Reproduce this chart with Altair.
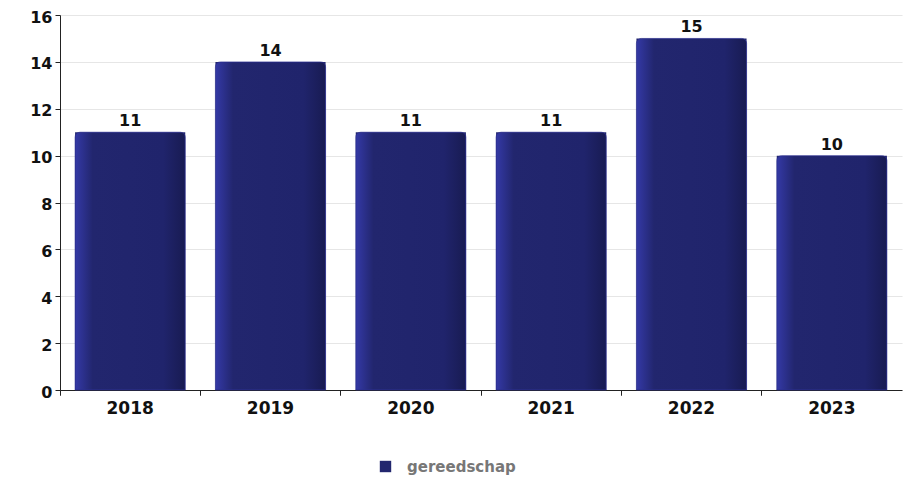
import altair as alt
import pandas as pd

years = ["2018", "2019", "2020", "2021", "2022", "2023"]
values = [11, 14, 11, 11, 15, 10]
series = ["gereedschap"] * len(years)

df = pd.DataFrame({"year": years, "value": values, "series": series})

FONT = "DejaVu Sans"

xscale = alt.Scale(paddingInner=0, paddingOuter=0)
x_lab = alt.X("year:N", sort=years, title=None, scale=xscale,
              axis=alt.Axis(orient="bottom", labelAngle=0, labelFont=FONT, ticks=False,
                            labelFontSize=17, labelFontWeight="bold", labelColor="#111",
                            labelPadding=10, domainColor="#222", grid=False))
x_tick = alt.X("year:N", sort=years, title=None, scale=xscale,
               axis=alt.Axis(orient="bottom", bandPosition=0, labels=False, domain=False,
                             tickColor="#222", tickSize=5, grid=False))
y = alt.Y("value:Q", title=None,
          scale=alt.Scale(domain=[0, 16]),
          axis=alt.Axis(values=[0, 2, 4, 6, 8, 10, 12, 14, 16], labelFont=FONT,
                        labelFontSize=16, labelFontWeight="bold", labelColor="#111",
                        domainColor="#222", tickColor="#222", tickSize=5,
                        labelOffset=2, labelPadding=3,
                        gridColor="#e6e6e6", gridWidth=1.2))

base = alt.Chart(df)
bw = alt.RelativeBandSize(0.785)

legend_layer = base.mark_bar(width=bw).encode(
    x=x_lab, y=y,
    color=alt.Color("series:N", title=None,
                    scale=alt.Scale(range=["#22266e"]),
                    legend=alt.Legend(orient="none", legendX=318, legendY=444,
                                      symbolType="square", symbolSize=130,
                                      labelFont=FONT, labelFontSize=15,
                                      labelFontWeight="bold", labelColor="#777",
                                      labelOffset=14))
)

grad = alt.Gradient(
    gradient="linear", x1=0, x2=1, y1=0, y2=0,
    stops=[alt.GradientStop(color="#3439a6", offset=0),
           alt.GradientStop(color="#22266e", offset=0.16),
           alt.GradientStop(color="#20246c", offset=0.8),
           alt.GradientStop(color="#181b52", offset=1)])

bars = base.mark_bar(width=bw, fill=grad, cornerRadiusTopLeft=5,
                     cornerRadiusTopRight=5, stroke="#2b2f90",
                     strokeWidth=0.6).encode(x=x_tick, y=y)

labels = base.mark_text(dy=-6, baseline="alphabetic", font=FONT, fontSize=16,
                        fontWeight="bold", color="#111").encode(
    x=x_tick, y=y, text="value:Q")

chart = alt.layer(legend_layer, bars, labels).resolve_axis(x="independent").properties(
    width=842, height=375,
    padding={"left": 52, "top": 7, "right": 1, "bottom": 90},
    autosize=alt.AutoSizeParams(type="none"),
).configure_view(stroke=None)

chart.save("out.html", embed_options={"renderer": "svg", "actions": False})
